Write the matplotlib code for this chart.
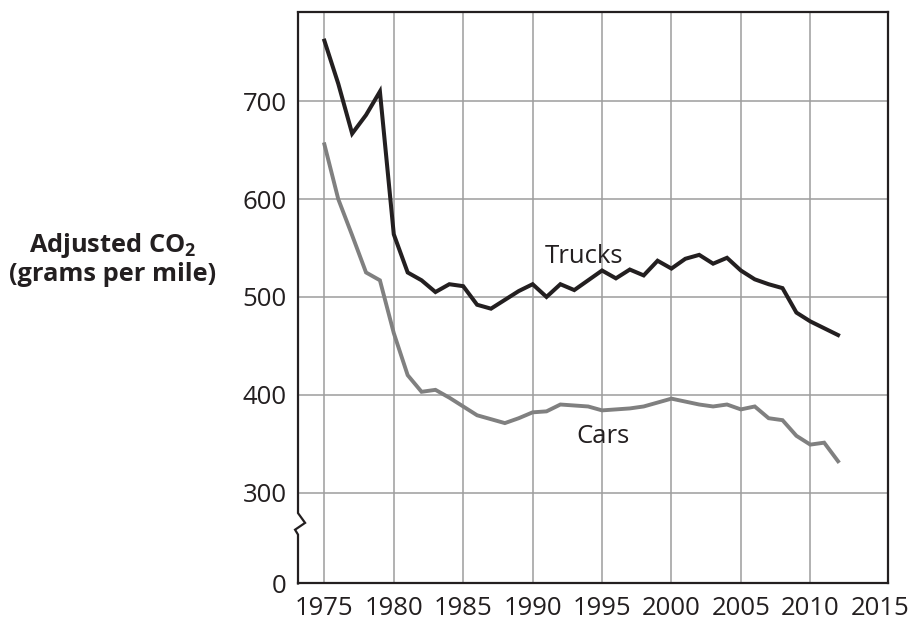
import numpy as np
import matplotlib
matplotlib.use('Agg')
import matplotlib.pyplot as plt
import matplotlib.transforms as mtransforms

plt.rcParams['font.family'] = ['Open Sans', 'DejaVu Sans']
plt.rcParams['mathtext.fontset'] = 'custom'
plt.rcParams['mathtext.rm'] = 'Open Sans:bold'

years = np.arange(1975, 2013)
trucks = [762, 718, 667, 686, 710, 564, 525, 517, 505, 513,
          511, 492, 488, 497, 506, 513, 500, 513, 507, 517,
          527, 519, 528, 522, 537, 529, 539, 543, 534, 540,
          527, 518, 513, 509, 484, 475, 468, 461]
cars = [656, 600, 563, 525, 517, 463, 420, 403, 405, 397,
        388, 379, 375, 371, 376, 382, 383, 390, 389, 388,
        384, 385, 386, 388, 392, 396, 393, 390, 388, 390,
        385, 388, 376, 374, 358, 349, 351, 332]

x_ticks = list(range(1975, 2016, 5))
y_ticks = [0, 300, 400, 500, 600, 700]

# broken axis: everything below 300 squeezed, 0 sits at ZERO_POS
ZERO_POS = 207
def ymap(v):
    return v if v >= 300 else ZERO_POS + (v / 300) * (300 - ZERO_POS)

ink = '#231f20'
fig = plt.figure(figsize=(9.08, 6.22), dpi=100)
ax = fig.add_axes([0.3282, 0.0619, 0.978 - 0.3282, 0.9802 - 0.0619])

ax.plot(years, cars, color='#808080', lw=2.8, solid_joinstyle='miter', zorder=3)
ax.plot(years, trucks, color=ink, lw=2.9, solid_joinstyle='miter', zorder=4)

ax.set_xlim(1973.1, 2015.6)
ax.set_ylim(ZERO_POS, 791)
ax.set_xticks(x_ticks)
ax.set_yticks([ymap(v) for v in y_ticks])
ax.set_yticklabels([str(v) for v in y_ticks])
ax.tick_params(length=0, labelsize=18.5, labelcolor=ink)
ax.tick_params(axis='x', pad=9)
ax.tick_params(axis='y', pad=8)

for x in x_ticks[:-1]:
    ax.axvline(x, color='#9d9d9d', lw=1.1, zorder=1)
for v in y_ticks[1:]:
    ax.axhline(v, color='#9d9d9d', lw=1.1, zorder=1)

for s in ['top', 'right', 'bottom']:
    ax.spines[s].set_linewidth(1.6)
    ax.spines[s].set_color(ink)
ax.spines['left'].set_visible(False)

# left spine with break zigzag
tr = mtransforms.blended_transform_factory(ax.transAxes, ax.transData)
ax.plot([0, 0, 0.012, -0.005, 0, 0],
        [791, 279, 269, 262, 257, ZERO_POS],
        color=ink, lw=1.6, transform=tr, clip_on=False, zorder=5,
        solid_joinstyle='miter')

ax.text(1993.7, 541, 'Trucks', fontsize=18.5, color=ink, ha='center', va='center')
ax.text(1995.1, 357, 'Cars', fontsize=18.5, color=ink, ha='center', va='center')

fig.text(113 / 908, 1 - 259 / 622, 'Adjusted CO$_2$\n(grams per mile)',
         fontsize=18.3, fontweight='bold', color=ink, ha='center', va='center',
         multialignment='center', linespacing=1.1)

fig.savefig('out.png', dpi=100)
